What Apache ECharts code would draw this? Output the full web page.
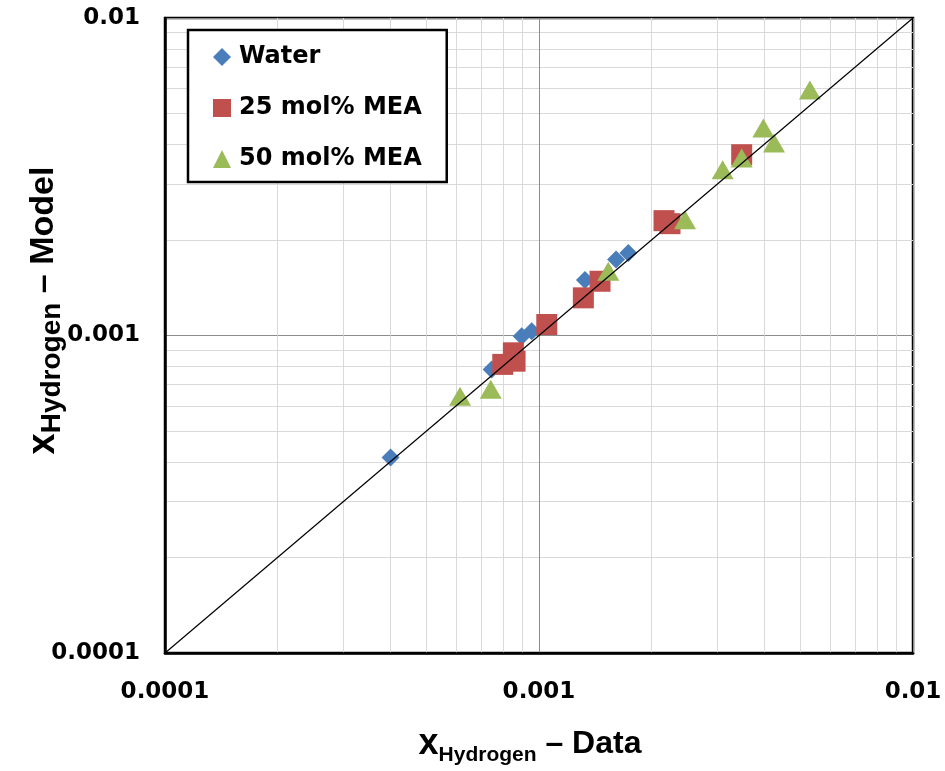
<!DOCTYPE html>
<html>
<head>
<meta charset="utf-8">
<script src="https://cdn.jsdelivr.net/npm/echarts@6/dist/echarts.min.js"></script>
<style>html,body{margin:0;padding:0;background:#fff}#c{width:945px;height:771px}</style>
</head>
<body>
<div id="c"></div>
<script>
// ---- data ----
var seriesNames = ['Water', '25 mol% MEA', '50 mol% MEA'];
var waterData = [
  [0.000401, 0.000413], [0.000747, 0.000782], [0.000899, 0.000995],
  [0.000956, 0.001032], [0.001327, 0.001495], [0.001607, 0.001734],
  [0.001733, 0.001820]
];
var mea25Data = [
  [0.000800, 0.000811], [0.000854, 0.000882], [0.000863, 0.000830],
  [0.001049, 0.001083], [0.001314, 0.001314], [0.001456, 0.001482],
  [0.002159, 0.002300], [0.002240, 0.002250], [0.003483, 0.003710]
];
var mea50Data = [
  [0.000615, 0.000644], [0.000743, 0.000677], [0.001532, 0.001593],
  [0.002457, 0.002316], [0.003098, 0.003327], [0.003483, 0.003622],
  [0.003980, 0.004500], [0.004250, 0.004036], [0.005300, 0.005936]
];
var parityLine = [[0.0001, 0.0001], [0.01, 0.01]];
var tickLabels = ['0.0001', '0.001', '0.01'];
var axisMin = 0.0001, axisMax = 0.01;

function fmt(v) {
  var best = tickLabels[0], bd = Infinity;
  tickLabels.forEach(function (t) {
    var d = Math.abs(Math.log10(parseFloat(t)) - Math.log10(v));
    if (d < bd) { bd = d; best = t; }
  });
  return best;
}

var tickFont = { fontFamily: 'DejaVu Sans', fontWeight: 'bold', fontSize: 23, color: '#000' };
function titleRich(xSize, subSize, dSize) {
  return {
    x: { fontFamily: 'Liberation Sans', fontWeight: 'bold', fontSize: xSize, lineHeight: 36, color: '#000' },
    s: { fontFamily: 'Liberation Sans', fontWeight: 'bold', fontSize: subSize, lineHeight: subSize, verticalAlign: 'bottom', color: '#000', padding: [0, 0, -4, 0] },
    d: { fontFamily: 'Liberation Sans', fontWeight: 'bold', fontSize: dSize, lineHeight: 36, color: '#000' }
  };
}

var minorSplit = { show: true, lineStyle: { color: '#d9d9d9', width: 1 } };

var chart = echarts.init(document.getElementById('c'), null, { renderer: 'canvas' });
chart.setOption({
  animation: false,
  backgroundColor: '#fff',
  grid: { left: 165, right: 32, top: 18, bottom: 117, show: true, borderColor: '#000', borderWidth: 2.5, containLabel: false },
  xAxis: {
    type: 'log', logBase: 10, min: axisMin, max: axisMax,
    axisLine: { show: true, lineStyle: { color: '#000', width: 2.5 } },
    axisTick: { show: false },
    minorTick: { show: false, splitNumber: 9 },
    minorSplitLine: minorSplit,
    splitLine: { show: true, lineStyle: { color: '#8c8c8c', width: 1 } },
    axisLabel: Object.assign({ margin: 28, formatter: fmt }, tickFont),
    name: '{x|x}{s|Hydrogen}{d| – Data}',
    nameLocation: 'middle', nameGap: 73, nameMoveOverlap: false,
    nameTextStyle: { rich: titleRich(36, 21, 32), padding: [0, 18, 0, 0] }
  },
  yAxis: {
    type: 'log', logBase: 10, min: axisMin, max: axisMax,
    axisLine: { show: true, lineStyle: { color: '#000', width: 2.5 } },
    axisTick: { show: false },
    minorTick: { show: false, splitNumber: 9 },
    minorSplitLine: minorSplit,
    splitLine: { show: true, lineStyle: { color: '#8c8c8c', width: 1 } },
    axisLabel: Object.assign({ margin: 25, formatter: fmt }, tickFont),
    name: '{x|x}{s|Hydrogen}{d| – Model}',
    nameLocation: 'middle', nameGap: 103, nameRotate: 90, nameMoveOverlap: false,
    nameTextStyle: { rich: titleRich(38, 28, 34), padding: [0, 0, 0, 50] }
  },
  legend: {
    data: [
      { name: seriesNames[0], icon: 'diamond' },
      { name: seriesNames[1], icon: 'rect' },
      { name: seriesNames[2], icon: 'triangle' }
    ],
    orient: 'vertical', left: 188, top: 30,
    itemWidth: 18, itemHeight: 18, itemGap: 27,
    padding: [15, 25, 11, 25],
    backgroundColor: '#fff', borderColor: '#000', borderWidth: 2.5,
    textStyle: { fontFamily: 'DejaVu Sans', fontWeight: 'bold', fontSize: 24, lineHeight: 24, color: '#000', padding: [0, 0, 0, 3] }
  },
  series: [
    {
      name: seriesNames[0], type: 'scatter', symbol: 'diamond', symbolSize: [18, 18],
      itemStyle: { color: '#4a7ebb', opacity: 1 }, z: 3, data: waterData
    },
    {
      name: seriesNames[1], type: 'scatter', symbol: 'rect', symbolSize: [21, 21],
      itemStyle: { color: '#c0504d', opacity: 1 }, z: 4, data: mea25Data
    },
    {
      name: seriesNames[2], type: 'scatter', symbol: 'triangle', symbolSize: [22, 19],
      itemStyle: { color: '#9bbb59', opacity: 1 }, z: 5, data: mea50Data
    },
    {
      type: 'line', data: parityLine, symbol: 'none', silent: true, z: 6,
      lineStyle: { color: '#000', width: 1.2 }
    }
  ]
});
</script>
</body>
</html>
